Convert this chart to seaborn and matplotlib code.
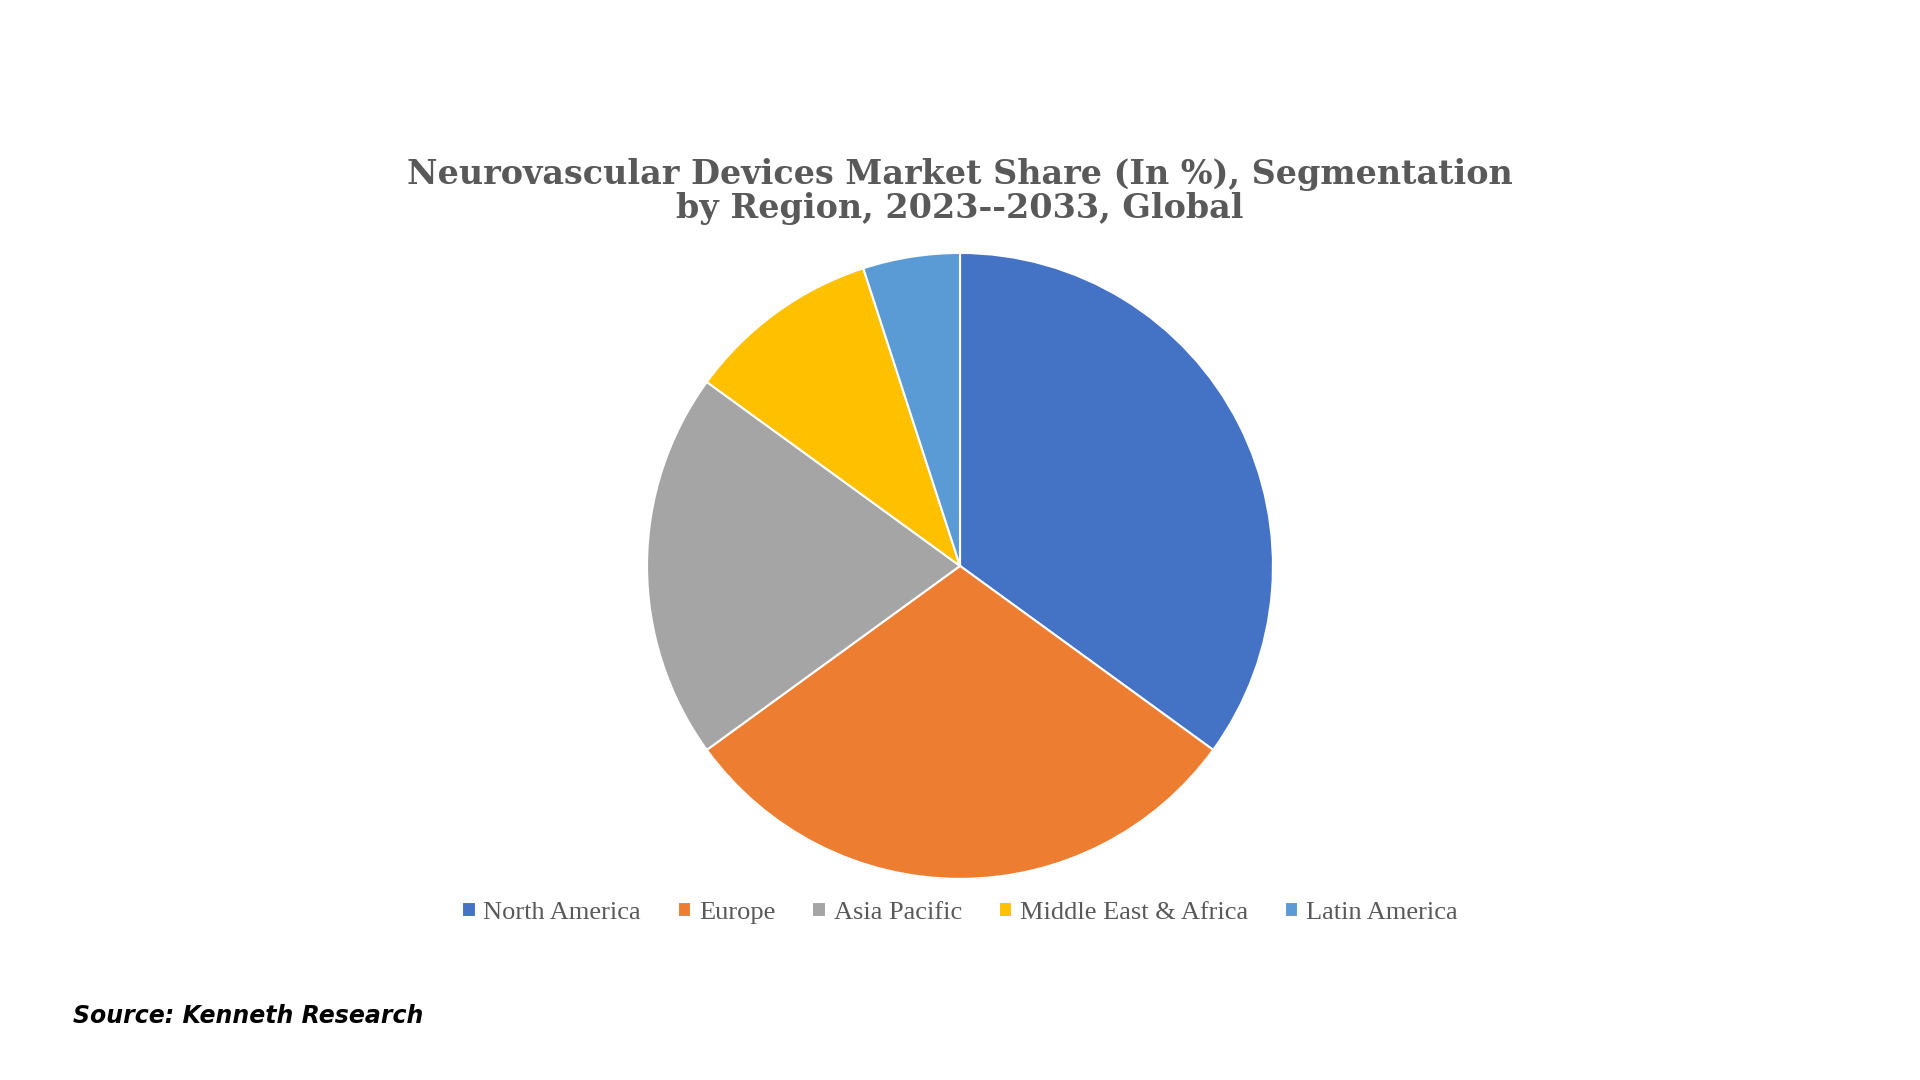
import matplotlib
matplotlib.use("Agg")
import matplotlib.pyplot as plt
import seaborn as sns

regions = ["North America", "Europe", "Asia Pacific", "Middle East & Africa", "Latin America"]
shares = [35, 30, 20, 10, 5]
colors = ["#4472C4", "#ED7D31", "#A5A5A5", "#FFC000", "#5B9BD5"]

sns.set_theme(style="white")
plt.rcParams['font.family'] = ['Liberation Serif', 'DejaVu Serif']

fig = plt.figure(figsize=(19.2, 10.8), dpi=100)
ax = fig.add_axes([0.337, 0.186, 0.326, 0.580])
wedges, _ = ax.pie(shares, colors=colors, startangle=90, counterclock=False,
                   wedgeprops=dict(edgecolor="white", linewidth=1.5))
ax.set_aspect("equal")
ax.set_xlim(-1.0, 1.0)
ax.set_ylim(-1.0, 1.0)

fig.text(0.5, 0.823, "Neurovascular Devices Market Share (In %), Segmentation\nby Region, 2023--2033, Global",
         ha="center", va="center", fontsize=24, fontweight="bold", color="#595959",
         family=["DejaVu Serif"], linespacing=1.05)

fig.legend(wedges, regions, loc="center", bbox_to_anchor=(0.5, 0.155), ncol=5,
           frameon=False, fontsize=19, handlelength=0.5, handleheight=0.5,
           columnspacing=1.4, handletextpad=0.3, labelcolor="#595959")

fig.text(0.038, 0.059, "Source: Kenneth Research", ha="left", va="center",
         fontsize=17, fontweight="bold", fontstyle="italic", color="black",
         family=["DejaVu Sans"])

fig.savefig("out.png", dpi=100)
